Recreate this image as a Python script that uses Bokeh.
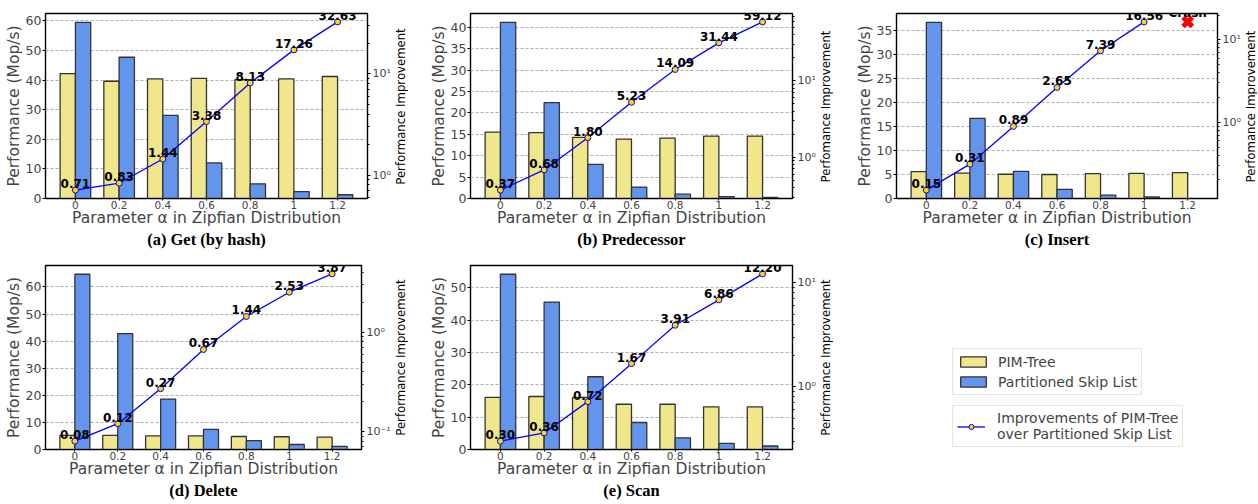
import math
from bokeh.plotting import figure
from bokeh.models import (ColumnDataSource, Range1d, LogAxis, LogScale, FixedTicker,
                          SingleIntervalTicker, LabelSet, Label, Title, Legend, LegendItem)
from bokeh.layouts import row, column
from bokeh.embed import file_html
from bokeh.resources import INLINE
from bokeh.transform import dodge
from bokeh.core.properties import value

# ---------------- data ----------------
alpha_labels = ["0", "0.2", "0.4", "0.6", "0.8", "1", "1.2"]

get_pim = [42.2, 39.6, 40.4, 40.6, 40.1, 40.4, 41.2]
get_psl = [59.5, 47.7, 28.1, 12.0, 4.95, 2.34, 1.26]
get_imp = [0.71, 0.83, 1.44, 3.38, 8.13, 17.26, 32.63]

pred_pim = [15.5, 15.4, 14.3, 13.9, 14.1, 14.6, 14.6]
pred_psl = [41.2, 22.4, 8.0, 2.66, 1.0, 0.46, 0.25]
pred_imp = [0.37, 0.68, 1.80, 5.23, 14.09, 31.44, 59.12]

ins_pim = [5.6, 5.3, 5.05, 5.0, 5.2, 5.25, 5.4]
ins_psl = [36.7, 16.7, 5.67, 1.9, 0.7, 0.32, None]
ins_imp = [0.15, 0.31, 0.89, 2.65, 7.39, 16.56, None]

del_pim = [5.2, 5.2, 5.0, 5.0, 4.8, 4.7, 4.55]
del_psl = [64.7, 42.8, 18.6, 7.4, 3.3, 1.85, 1.18]
del_imp = [0.08, 0.12, 0.27, 0.67, 1.44, 2.53, 3.87]

scan_pim = [16.1, 16.4, 16.1, 14.0, 14.0, 13.2, 13.2]
scan_psl = [54.2, 45.6, 22.5, 8.35, 3.6, 1.92, 1.08]
scan_imp = [0.30, 0.36, 0.72, 1.67, 3.91, 6.86, 12.20]

series_names = ["PIM-Tree", "Partitioned Skip List"]
line_name = "Improvements of PIM-Tree\nover Partitioned Skip List"
x_title = "Parameter α in Zipfian Distribution"
y_title = "Performance (Mop/s)"

# ---------------- style ----------------
PIM_C = "#f0e68c"
PSL_C = "#6495ed"
EDGE = "#333333"
LINE_C = "#0000ff"
MARK_C = "#ffd700"
FONT = "DejaVu Sans"
SUP = {0.1: "10\u207b\u00b9", 1: "10\u2070", 10: "10\u00b9"}
MINORS = [k * 10 ** e for e in range(-2, 2) for k in range(2, 10)]


def no_frame_align(p):
    if hasattr(p, "frame_align"):
        p.frame_align = False


def make_panel(pim, psl, imp, caption, y_step, fw, fh, bl, br, bt, bb):
    n = len(alpha_labels)
    xs = list(range(n))
    bw = 0.35
    nan = float("nan")

    def clean(a):
        return [nan if v is None else v for v in a]

    src = ColumnDataSource(dict(
        x=xs, pim=clean(pim), psl=clean(psl), imp=clean(imp),
        lbl=["" if v is None else f"{v:.2f}" for v in imp]))
    ymax = 1.05 * max(v for v in pim + psl if v is not None)
    iv = [math.log10(v) for v in imp if v is not None]
    span = max(iv) - min(iv)
    lo, hi = 10 ** (min(iv) - 0.05 * span), 10 ** (max(iv) + 0.05 * span)
    xpad = 0.05 * (n - 1 + 2 * bw)
    x0, x1 = -bw - xpad, n - 1 + bw + xpad

    p = figure(width=bl + fw + br, height=bt + fh + bb, output_backend="svg",
               toolbar_location=None,
               x_range=Range1d(x0, x1), y_range=Range1d(0, ymax),
               min_border_left=bl, min_border_right=br, min_border_top=bt,
               min_border_bottom=bb, outline_line_color="black", outline_line_width=1.4,
               border_fill_color="white")
    no_frame_align(p)
    p.extra_y_ranges = {"imp": Range1d(lo, hi)}
    p.extra_y_scales = {"imp": LogScale()}

    p.vbar(x=dodge("x", -bw / 2), top="pim", width=bw, source=src,
           fill_color=PIM_C, line_color=EDGE, line_width=1.3)
    p.vbar(x=dodge("x", bw / 2), top="psl", width=bw, source=src,
           fill_color=PSL_C, line_color=EDGE, line_width=1.3)
    p.line(x="x", y="imp", source=src, y_range_name="imp", line_color=LINE_C, line_width=1.3)
    p.scatter(x="x", y="imp", source=src, y_range_name="imp", size=6, marker="circle",
              fill_color=MARK_C, line_color=LINE_C, line_width=1)
    p.add_layout(LabelSet(x="x", y="imp", text="lbl", source=src, y_range_name="imp",
                          text_align="center", text_baseline="bottom", y_offset=2,
                          text_font=value(FONT), text_font_size="12px",
                          text_font_style="bold", text_color="black"))

    # crash marker where a series value is missing
    for i, v in enumerate(psl):
        if v is None:
            last = [u for u in imp if u is not None][-1]
            csrc = ColumnDataSource(dict(x=[xs[i]], y=[last], t=["Crash"]))
            p.scatter(x="x", y="y", source=csrc, y_range_name="imp", marker="x",
                      size=13, line_color="red", line_width=5)
            p.add_layout(LabelSet(x="x", y="y", text="t", source=csrc, y_range_name="imp",
                                  text_align="center", text_baseline="bottom", y_offset=2,
                                  text_font=value(FONT), text_font_size="12px",
                                  text_font_style="bold", text_color="black"))

    # axes
    xa = p.xaxis[0]
    xa.ticker = FixedTicker(ticks=xs)
    xa.major_label_overrides = {i: lab for i, lab in enumerate(alpha_labels)}
    xa.axis_label = x_title
    ya = p.yaxis[0]
    ya.ticker = SingleIntervalTicker(interval=y_step, num_minor_ticks=0)
    ya.axis_label = y_title
    for ax in (xa, ya):
        ax.axis_label_text_font = FONT
        ax.axis_label_text_font_style = "normal"
        ax.axis_label_text_font_size = "15.5px"
        ax.major_label_text_font = FONT
        ax.major_tick_out = 3
        ax.major_tick_in = 0
        ax.minor_tick_out = 0
        ax.minor_tick_in = 0
        ax.axis_line_color = "black"
    xa.major_tick_out = 2
    xa.major_label_text_font_size = "10.5px"
    xa.major_label_standoff = 0
    xa.axis_label_standoff = -3
    ya.major_label_text_font_size = "12.5px"
    ya.major_label_standoff = 1
    ya.axis_label_standoff = 0

    ra = LogAxis(y_range_name="imp",
                 ticker=FixedTicker(ticks=[0.1, 1, 10], minor_ticks=MINORS),
                 major_label_overrides=SUP)
    ra.major_label_text_font = FONT
    ra.major_label_text_font_size = "11px"
    ra.major_tick_out = 3
    ra.major_tick_in = 0
    ra.minor_tick_out = 2
    ra.minor_tick_in = 0
    ra.major_label_standoff = 2
    p.add_layout(ra, "right")

    p.xgrid.visible = False
    p.ygrid.grid_line_color = "#9a9a9a"
    p.ygrid.grid_line_dash = "3 2"
    p.ygrid.grid_line_width = 0.8
    p.ygrid.ticker = ya.ticker

    p.add_layout(Title(text=caption, align="center", text_font="Liberation Serif",
                       text_font_style="bold", text_font_size="16.5px", standoff=0,
                       vertical_align="top", text_color="black"), "below")
    return p


def side_title(text, width, height, bt, fh):
    """Narrow strip holding the right-hand axis title, reading bottom to top."""
    f = figure(width=width, height=height, output_backend="svg", toolbar_location=None,
               x_range=Range1d(0, 1), y_range=Range1d(0, height), x_axis_location=None,
               y_axis_location=None, min_border=0, outline_line_color=None)
    no_frame_align(f)
    f.grid.visible = False
    f.add_layout(Label(x=0.5, y=height - bt - fh / 2, text=text, angle=math.pi / 2,
                       text_align="center", text_baseline="middle", text_font=FONT,
                       text_font_size="11.7px", text_color="black"))
    return f


H1, H2 = 250, 252
pa = make_panel(get_pim, get_psl, get_imp, "(a) Get (by hash)", 10, 324, 186, 45, 24, 13, 51)
la = side_title("Performance Improvement", 15, H1, 13, 186)
pb = make_panel(pred_pim, pred_psl, pred_imp, "(b) Predecessor", 5, 324, 186, 62, 24, 13, 51)
lb = side_title("Perfomance Improvement", 15, H1, 13, 186)
pc = make_panel(ins_pim, ins_psl, ins_imp, "(c) Insert", 5, 323, 186, 63, 24, 13, 51)
lc = side_title("Perfomance Improvement", 14, H1, 13, 186)
pd = make_panel(del_pim, del_psl, del_imp, "(d) Delete", 10, 317, 184, 45, 31, 15, 53)
ld = side_title("Performance Improvement", 15, H2, 15, 184)
pe = make_panel(scan_pim, scan_psl, scan_imp, "(e) Scan", 10, 324, 184, 62, 24, 15, 53)
le = side_title("Performance Improvement", 15, H2, 15, 184)

# ---------------- legend panel ----------------
lg = figure(width=423, height=H2, output_backend="svg", toolbar_location=None,
            x_range=Range1d(0, 1), y_range=Range1d(0, 1), x_axis_location=None,
            y_axis_location=None, min_border=0, outline_line_color=None)
no_frame_align(lg)
lg.grid.visible = False
proxy = ColumnDataSource(dict(x=[0.5], top=[0.5], y=[0.5]))
r1 = lg.vbar(x="x", top="top", width=0.5, source=proxy, fill_color=PIM_C,
             line_color=EDGE, line_width=1.3, muted_fill_alpha=0, muted_line_alpha=0)
r2 = lg.vbar(x="x", top="top", width=0.5, source=proxy, fill_color=PSL_C,
             line_color=EDGE, line_width=1.3, muted_fill_alpha=0, muted_line_alpha=0)
r3 = lg.line(x="x", y="y", source=proxy, line_color=LINE_C, line_width=1.3,
             muted_line_alpha=0)
r4 = lg.scatter(x="x", y="y", source=proxy, marker="circle", size=6,
                fill_color=MARK_C, line_color=LINE_C, line_width=1,
                muted_fill_alpha=0, muted_line_alpha=0)
for r in (r1, r2, r3, r4):
    r.muted = True

leg1 = Legend(items=[LegendItem(label=series_names[0], renderers=[r1]),
                     LegendItem(label=series_names[1], renderers=[r2])],
              location=(119, 107), margin=0, padding=4, spacing=3,
              glyph_width=32, glyph_height=13, label_height=17, label_standoff=9,
              label_text_font=FONT, label_text_font_size="14px",
              border_line_color="#cccccc", border_line_width=1)
leg2 = Legend(items=[LegendItem(label=line_name, renderers=[r3, r4])],
              location=(119, 55), margin=0, padding=4, spacing=0,
              glyph_width=28, glyph_height=13, label_standoff=12,
              label_text_font=FONT, label_text_font_size="14px",
              label_text_line_height=1.15,
              border_line_color="#cccccc", border_line_width=1)
lg.add_layout(leg1)
lg.add_layout(leg2)

layout = column(row(pa, la, pb, lb, pc, lc), row(pd, ld, pe, le, lg))
open("out.html", "w").write(file_html(layout, INLINE))
